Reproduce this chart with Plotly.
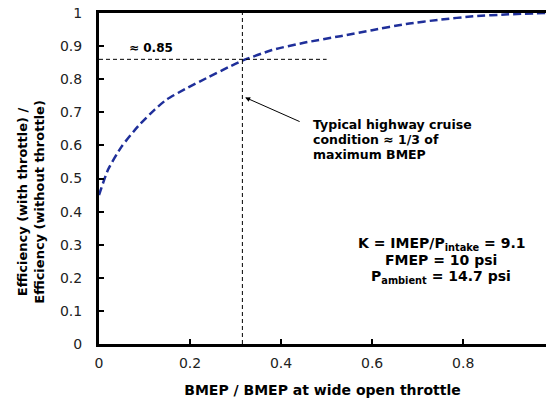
import plotly.graph_objects as go

# Data
load = [0, 0.02, 0.05, 0.086, 0.123, 0.149, 0.189, 0.24, 0.284, 0.315, 0.38, 0.45,
        0.53, 0.6, 0.675, 0.75, 0.822, 0.9, 0.982]
eff_ratio = [0.45, 0.527, 0.597, 0.658, 0.709, 0.739, 0.77, 0.806, 0.836, 0.856, 0.888, 0.91,
             0.93, 0.948, 0.967, 0.98, 0.99, 0.996, 1.0]

cruise_x = 0.315
cruise_y = 0.86
x_ticks = [0, 0.2, 0.4, 0.6, 0.8]
y_ticks = [0, 0.1, 0.2, 0.3, 0.4, 0.5, 0.6, 0.7, 0.8, 0.9, 1]

note_lines = ["Typical highway cruise", "condition ≈ 1/3 of", "maximum BMEP"]
param_lines = ["K = IMEP/P<sub>intake</sub> = 9.1", "FMEP = 10 psi", "P<sub>ambient</sub> = 14.7 psi"]

FONT = "DejaVu Sans"

fig = go.Figure()
fig.add_trace(go.Scatter(x=load, y=eff_ratio, mode="lines",
                         line=dict(color="#1f2f9a", width=2.5, dash="8px,4px"),
                         line_shape="spline", line_smoothing=0.6, showlegend=False))
# crosshair
fig.add_trace(go.Scatter(x=[cruise_x, cruise_x], y=[0, 1], mode="lines",
                         line=dict(color="black", width=1, dash="4px,3px"), showlegend=False))
fig.add_trace(go.Scatter(x=[0, 0.5], y=[cruise_y, cruise_y], mode="lines",
                         line=dict(color="black", width=1, dash="4px,3px"), showlegend=False))

fig.add_annotation(x=0.062, y=0.894, text="<b>≈ 0.85</b>", showarrow=False,
                   xanchor="left", yanchor="middle", font=dict(size=12, color="black", family=FONT))
fig.add_annotation(x=0.321, y=0.745, ax=0.444, ay=0.67, axref="x", ayref="y",
                   text="", showarrow=True, arrowhead=2, arrowsize=1, arrowwidth=1, arrowcolor="black")
for txt, yy in zip(note_lines, [0.662, 0.618, 0.574]):
    fig.add_annotation(x=0.466, y=yy, text="<b>" + txt + "</b>",
                       showarrow=False, xanchor="left", yanchor="middle", align="left",
                       font=dict(size=12.5, color="black", family=FONT))
for txt, yy in zip(param_lines, [0.303, 0.255, 0.201]):
    fig.add_annotation(x=0.752, y=yy, text="<b>" + txt + "</b>",
                       showarrow=False, xanchor="center", yanchor="middle", align="center",
                       font=dict(size=14, color="black", family=FONT))
fig.add_annotation(xref="paper", yref="paper", x=-0.152, y=0.43,
                   text="<b>Efficiency (with throttle) /<br>Efficiency (without throttle)</b>",
                   textangle=-90, showarrow=False, xanchor="center", yanchor="middle",
                   font=dict(size=13, color="black", family=FONT))

fig.update_layout(
    width=546, height=398,
    margin=dict(l=99, r=0, t=13, b=54),
    paper_bgcolor="white", plot_bgcolor="white",
    font=dict(family=FONT, size=14, color="#222"),
    xaxis=dict(range=[0, 0.982], tickvals=x_ticks, ticktext=[str(v) for v in x_ticks],
               showgrid=False, zeroline=False, showline=True, linecolor="black", linewidth=3,
               mirror=True, ticks="inside", ticklen=5, tickwidth=2, tickcolor="black",
               ticklabelstandoff=4, automargin=False,
               title=dict(text="<b>BMEP / BMEP at wide open throttle</b>", standoff=18,
                          font=dict(size=14, color="black", family=FONT))),
    yaxis=dict(range=[0, 1], tickvals=y_ticks, ticktext=[str(v) for v in y_ticks],
               showgrid=False, zeroline=False, showline=True, linecolor="black", linewidth=3,
               ticks="inside", ticklen=5, tickwidth=2, tickcolor="black",
               ticklabelstandoff=11, automargin=False),
)

fig.write_html("out.html")
